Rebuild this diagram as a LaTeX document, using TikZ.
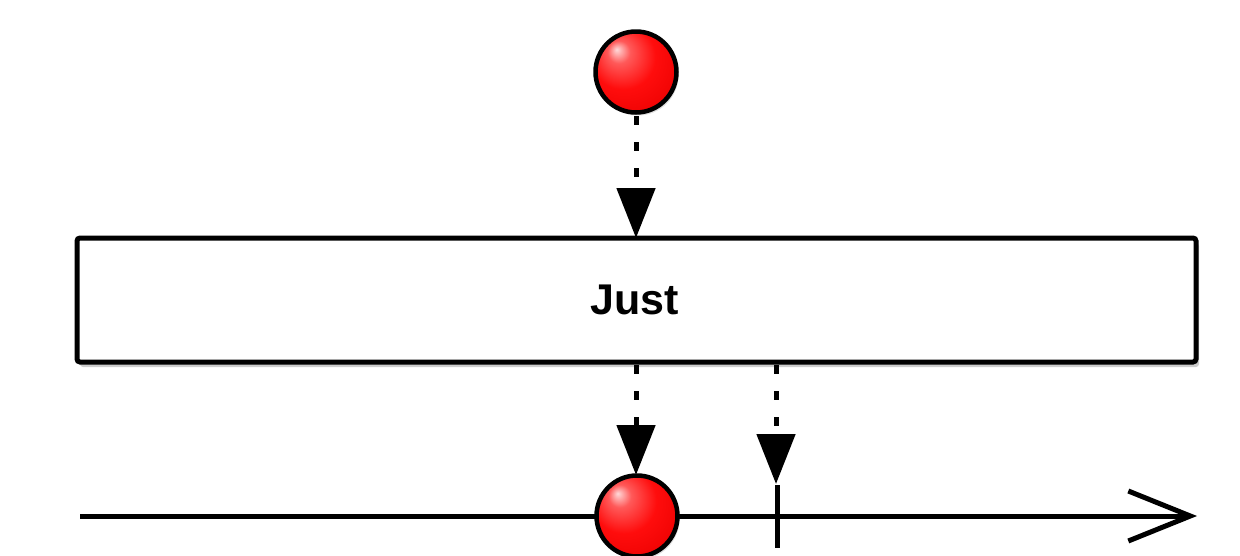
\documentclass[tikz,border=0pt]{standalone}
\usepackage{fontspec}
\setmainfont{Liberation Sans}
\usetikzlibrary{shadows,arrows.meta}
\pgfdeclareradialshading{redball}{\pgfpoint{-12bp}{14bp}}{%
  color(0bp)=(red!15!white); color(7bp)=(red!65!white); color(20bp)=(red!95!white);
  color(38bp)=(red!92!black); color(50bp)=(red!65!black); color(60bp)=(red!50!black)}
\tikzset{
  ball/.style={circle, draw=black, line width=4.5pt, shading=redball, minimum size=81pt, inner sep=0pt,
     drop shadow={opacity=0.25, shadow xshift=2pt, shadow yshift=-3pt}},
  flow/.style={line width=5pt, dash pattern=on 9pt off 17pt, -{Triangle[length=50pt,width=38pt]}, shorten >=0pt},
  opbox/.style={draw=black, line width=5pt, rounded corners=3pt, fill=white, minimum width=1119pt, minimum height=124pt, inner sep=0pt,
     drop shadow={opacity=0.4, shadow xshift=3pt, shadow yshift=-5pt}},
  timeline/.style={line width=5pt, -{Straight Barb[length=62pt,width=50pt,line width=5pt]}},
  tick/.style={line width=5pt}
}
\begin{document}
\begin{tikzpicture}[x=1pt,y=-1pt]
\useasboundingbox (0,0) rectangle (1240,555);
% box
\node[opbox] (op) at (636.5,300) {};
\node[font=\bfseries\fontsize{43}{50}\selectfont] (lbl) at (635,300) {Just};
% timeline
\coordinate (tlstart) at (80,516);
\coordinate (tlend) at (1197,516);
\draw[timeline] (tlstart) -- (tlend);
% tick
\coordinate (tickT) at (777,485);
\coordinate (tickB) at (777,548);
\draw[tick] (tickT) -- (tickB);
% balls
\node[ball] (inball) at (636,72) {};
\node[ball] (outball) at (637,516) {};
% arrows
\coordinate (inT) at (636,116);
\coordinate (inB) at (636,238);
\draw[flow] (inT) -- (inB);
\coordinate (o1T) at (636,365);
\coordinate (o1B) at (636,475);
\draw[flow] (o1T) -- (o1B);
\coordinate (o2T) at (776,365);
\coordinate (o2B) at (776,484);
\draw[flow] (o2T) -- (o2B);
\end{tikzpicture}
\end{document}
